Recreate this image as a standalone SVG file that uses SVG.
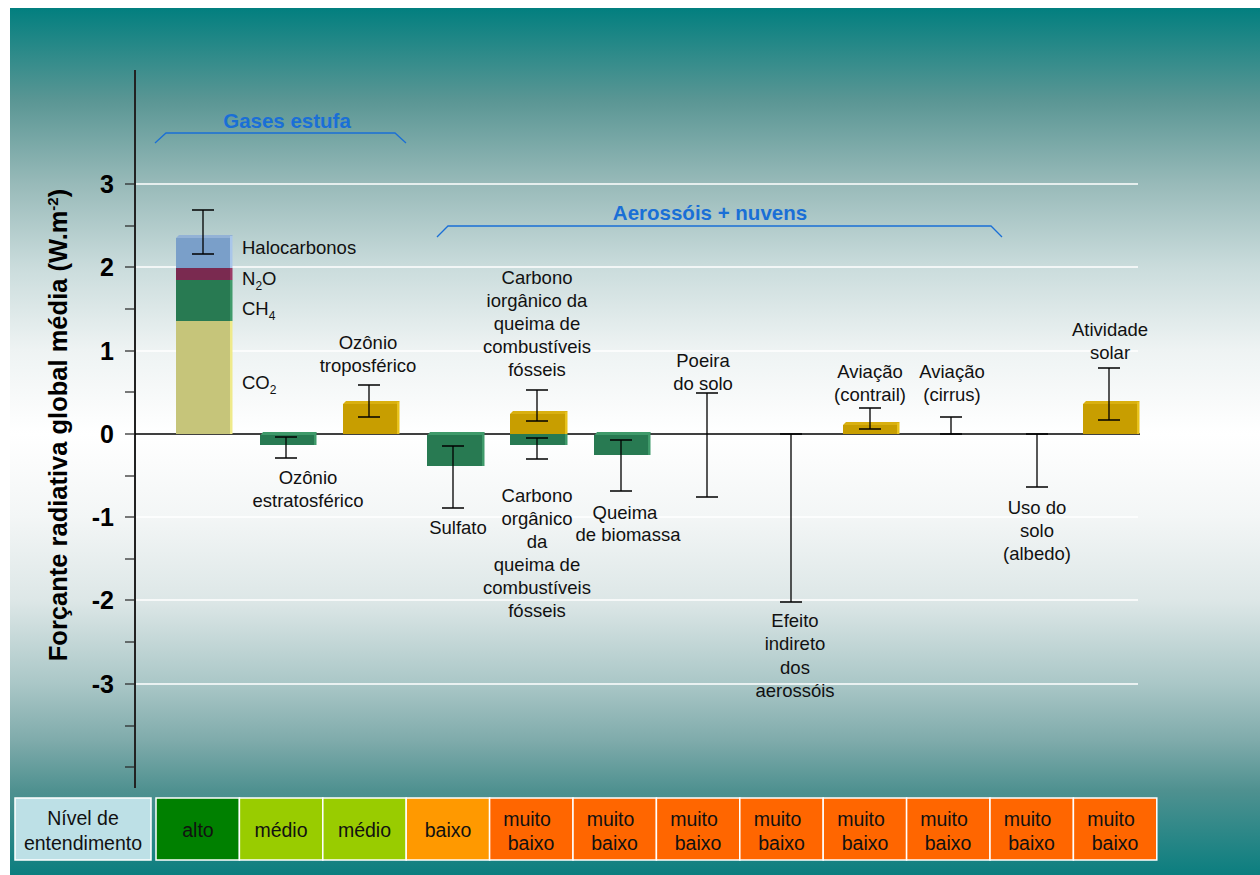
<svg xmlns="http://www.w3.org/2000/svg" width="1260" height="875" viewBox="0 0 1260 875">
<defs>
<linearGradient id="bg" gradientUnits="userSpaceOnUse" x1="0" y1="8" x2="0" y2="875">
<stop offset="0" stop-color="#027f7f"/>
<stop offset="0.106" stop-color="#5a9694"/>
<stop offset="0.203" stop-color="#98bab9"/>
<stop offset="0.299" stop-color="#cadcdc"/>
<stop offset="0.394" stop-color="#eef3f3"/>
<stop offset="0.491" stop-color="#ffffff"/>
<stop offset="0.587" stop-color="#f3f6f6"/>
<stop offset="0.683" stop-color="#dde7e7"/>
<stop offset="0.779" stop-color="#aac7c7"/>
<stop offset="0.845" stop-color="#7fabab"/>
<stop offset="0.902" stop-color="#4f9190"/>
<stop offset="1" stop-color="#0b7e7f"/>
</linearGradient>
<style>
text{font-family:"Liberation Sans",Arial,sans-serif;}
.lbl{font-size:18.5px;fill:#111;text-anchor:middle;}
.lbll{font-size:18.5px;fill:#111;}
.ax{font-size:25px;font-weight:bold;fill:#000;text-anchor:end;}
.ttl{font-size:25.5px;font-weight:bold;fill:#000;}
.grp{font-size:20.5px;font-weight:bold;fill:#1a6fd6;text-anchor:middle;}
.brk{fill:none;stroke:#1a6fd6;stroke-width:1.3;}
.grid{stroke:#ffffff;stroke-width:1.5;}
.tick{stroke:#222;stroke-width:1.2;}
.err{fill:none;stroke:#000;stroke-width:1.3;}
.gr{fill:#287a52;}
.grs{fill:#3f9a6a;}
.go{fill:#c89e00;}
.gos{fill:#e8c21c;}
.cell{stroke:#ffffff;stroke-width:1.5;}
.ct{font-size:19.5px;fill:#111;text-anchor:middle;}
</style>
</defs>
<rect x="0" y="0" width="1260" height="875" fill="#ffffff"/>
<rect x="10" y="8" width="1250" height="867" fill="url(#bg)"/>

<g id="grid">
<line class="grid" x1="136" y1="184" x2="1138" y2="184"/>
<line class="grid" x1="136" y1="267" x2="1138" y2="267"/>
<line class="grid" x1="136" y1="351" x2="1138" y2="351"/>
<line class="grid" x1="136" y1="517" x2="1138" y2="517"/>
<line class="grid" x1="136" y1="600" x2="1138" y2="600"/>
<line class="grid" x1="136" y1="684" x2="1138" y2="684"/>
</g>

<g id="axis">
<line x1="135" y1="70" x2="135" y2="788" stroke="#222" stroke-width="2"/>
<line class="tick" x1="125" y1="184" x2="135" y2="184"/>
<line class="tick" x1="125" y1="226" x2="135" y2="226"/>
<line class="tick" x1="125" y1="267" x2="135" y2="267"/>
<line class="tick" x1="125" y1="309" x2="135" y2="309"/>
<line class="tick" x1="125" y1="351" x2="135" y2="351"/>
<line class="tick" x1="125" y1="392" x2="135" y2="392"/>
<line class="tick" x1="125" y1="434" x2="135" y2="434"/>
<line class="tick" x1="125" y1="476" x2="135" y2="476"/>
<line class="tick" x1="125" y1="517" x2="135" y2="517"/>
<line class="tick" x1="125" y1="559" x2="135" y2="559"/>
<line class="tick" x1="125" y1="600" x2="135" y2="600"/>
<line class="tick" x1="125" y1="642" x2="135" y2="642"/>
<line class="tick" x1="125" y1="684" x2="135" y2="684"/>
<line class="tick" x1="125" y1="726" x2="135" y2="726"/>
<line class="tick" x1="125" y1="767" x2="135" y2="767"/>
<text class="ax" x="114" y="193">3</text>
<text class="ax" x="114" y="276">2</text>
<text class="ax" x="114" y="360">1</text>
<text class="ax" x="114" y="443">0</text>
<text class="ax" x="114" y="526">-1</text>
<text class="ax" x="114" y="609">-2</text>
<text class="ax" x="114" y="693">-3</text>
<text class="ttl" transform="translate(67,425) rotate(-90)" text-anchor="middle">Forçante radiativa global média (W.m<tspan font-size="15" dy="-9">-2</tspan><tspan dy="9">)</tspan></text>
<line x1="135" y1="434" x2="1140" y2="434" stroke="#000" stroke-width="1.3"/>
</g>

<g id="gases-estufa">
<text class="grp" x="287" y="128">Gases estufa</text>
<polyline class="brk" points="155,143 166,133 395,133 406,143"/>
</g>

<g id="aerossois-nuvens">
<text class="grp" x="710" y="220">Aerossóis + nuvens</text>
<polyline class="brk" points="437,237 448,226 991,226 1002,237"/>
</g>

<g id="co2-stack">
<polygon points="176,238 179,235 233,235 230,238" fill="#93b2d6"/>
<rect x="176" y="238" width="54" height="30" fill="#7a9fc9"/>
<rect x="230" y="236" width="2.5" height="32" fill="#a9c6ea"/>
<rect x="176" y="268" width="54" height="12" fill="#7a2a50"/>
<rect x="230" y="268" width="2.5" height="12" fill="#9a3a66"/>
<rect x="176" y="280" width="54" height="41" fill="#287a52"/>
<rect x="230" y="280" width="2.5" height="41" fill="#3f9a6a"/>
<rect x="176" y="321" width="54" height="113" fill="#c6c57a"/>
<rect x="230" y="321" width="2.5" height="113" fill="#efea8a"/>
<path class="err" d="M192,210 H214 M203,210 V254 M192,254 H214"/>
<text class="lbll" x="242" y="254">Halocarbonos</text>
<text class="lbll" x="242" y="285">N<tspan font-size="12" dy="5">2</tspan><tspan dy="-5">O</tspan></text>
<text class="lbll" x="242" y="315">CH<tspan font-size="12" dy="5">4</tspan></text>
<text class="lbll" x="242" y="389">CO<tspan font-size="12" dy="5">2</tspan></text>
</g>

<g id="ozonio-estratosferico">
<polygon points="260,436 263,432 317,432 314,436" fill="#3f9a6a"/>
<rect class="gr" x="260" y="435" width="54" height="10"/>
<rect class="grs" x="314" y="433" width="2.5" height="12"/>
<path class="err" d="M275,437 H297 M286,437 V458 M275,458 H297"/>
<text class="lbl" x="308" y="484">Ozônio</text>
<text class="lbl" x="308" y="507">estratosférico</text>
</g>

<g id="ozonio-troposferico">
<polygon points="343,404 346,401 400,401 397,404" fill="#d9b010"/>
<rect class="go" x="343" y="404" width="54" height="30"/>
<rect class="gos" x="397" y="402" width="2.5" height="32"/>
<path class="err" d="M358,385 H380 M369,385 V417 M358,417 H380"/>
<text class="lbl" x="368" y="349">Ozônio</text>
<text class="lbl" x="368" y="372">troposférico</text>
</g>

<g id="sulfato">
<polygon points="427,436 430,432 485,432 482,436" fill="#3f9a6a"/>
<rect class="gr" x="427" y="435" width="55" height="31"/>
<rect class="grs" x="482" y="433" width="2.5" height="33"/>
<path class="err" d="M442,446 H464 M453,446 V508 M442,508 H464"/>
<text class="lbl" x="458" y="534">Sulfato</text>
</g>

<g id="carbono-combustiveis">
<polygon points="510,414 513,411 568,411 565,414" fill="#d9b010"/>
<rect class="go" x="510" y="414" width="55" height="20"/>
<rect class="gos" x="565" y="412" width="2.5" height="22"/>
<rect class="gr" x="510" y="434" width="55" height="11"/>
<rect class="grs" x="565" y="434" width="2.5" height="11"/>
<path class="err" d="M526,390 H548 M537,390 V421 M526,421 H548"/>
<path class="err" d="M526,438 H548 M537,438 V459 M526,459 H548"/>
<text class="lbl" x="537" y="284">Carbono</text>
<text class="lbl" x="537" y="307">iorgânico da</text>
<text class="lbl" x="537" y="330">queima de</text>
<text class="lbl" x="537" y="353">combustíveis</text>
<text class="lbl" x="537" y="376">fósseis</text>
<text class="lbl" x="537" y="502">Carbono</text>
<text class="lbl" x="537" y="525">orgânico</text>
<text class="lbl" x="537" y="548">da</text>
<text class="lbl" x="537" y="571">queima de</text>
<text class="lbl" x="537" y="594">combustíveis</text>
<text class="lbl" x="537" y="617">fósseis</text>
</g>

<g id="queima-biomassa">
<polygon points="594,436 597,432 651,432 648,436" fill="#3f9a6a"/>
<rect class="gr" x="594" y="435" width="54" height="20"/>
<rect class="grs" x="648" y="433" width="2.5" height="22"/>
<path class="err" d="M610,440 H632 M621,440 V491 M610,491 H632"/>
<text class="lbl" x="625" y="519">Queima</text>
<text class="lbl" x="628" y="541">de biomassa</text>
</g>

<g id="poeira-solo">
<path class="err" d="M696,393 H718 M707,393 V497 M696,497 H718"/>
<text class="lbl" x="703" y="367">Poeira</text>
<text class="lbl" x="703" y="390">do solo</text>
</g>

<g id="efeito-indireto">
<path class="err" d="M780,434 H802 M791,434 V602 M780,602 H802"/>
<text class="lbl" x="795" y="627">Efeito</text>
<text class="lbl" x="795" y="650">indireto</text>
<text class="lbl" x="795" y="674">dos</text>
<text class="lbl" x="795" y="697">aerossóis</text>
</g>

<g id="aviacao-contrail">
<polygon points="843,425 846,422 900,422 897,425" fill="#d9b010"/>
<rect class="go" x="843" y="425" width="54" height="9"/>
<rect class="gos" x="897" y="423" width="2.5" height="11"/>
<path class="err" d="M859,408 H881 M870,408 V429 M859,429 H881"/>
<text class="lbl" x="870" y="378">Aviação</text>
<text class="lbl" x="870" y="401">(contrail)</text>
</g>

<g id="aviacao-cirrus">
<path class="err" d="M940,417 H962 M951,417 V434 M940,434 H962"/>
<text class="lbl" x="952" y="378">Aviação</text>
<text class="lbl" x="952" y="401">(cirrus)</text>
</g>

<g id="uso-solo">
<path class="err" d="M1026,434 H1048 M1037,434 V487 M1026,487 H1048"/>
<text class="lbl" x="1037" y="514">Uso do</text>
<text class="lbl" x="1037" y="537">solo</text>
<text class="lbl" x="1037" y="560">(albedo)</text>
</g>

<g id="atividade-solar">
<polygon points="1083,404 1086,401 1140,401 1137,404" fill="#d9b010"/>
<rect class="go" x="1083" y="404" width="54" height="30"/>
<rect class="gos" x="1137" y="402" width="2.5" height="32"/>
<path class="err" d="M1098,368 H1120 M1109,368 V420 M1098,420 H1120"/>
<text class="lbl" x="1110" y="336">Atividade</text>
<text class="lbl" x="1110" y="359">solar</text>
</g>

<g id="legend">
<rect class="cell" x="15" y="798" width="136" height="62" fill="#bde0e6"/>
<text class="ct" x="83" y="825">Nível de</text>
<text class="ct" x="83" y="850">entendimento</text>
<rect class="cell" x="156" y="798" width="83.4" height="62" fill="#008000"/>
<text class="ct" x="198" y="837">alto</text>
<rect class="cell" x="239.4" y="798" width="83.4" height="62" fill="#99cc00"/>
<text class="ct" x="281" y="837">médio</text>
<rect class="cell" x="322.8" y="798" width="83.4" height="62" fill="#99cc00"/>
<text class="ct" x="364.5" y="837">médio</text>
<rect class="cell" x="406.2" y="798" width="83.4" height="62" fill="#ff9900"/>
<text class="ct" x="448" y="837">baixo</text>
<rect class="cell" x="489.6" y="798" width="83.4" height="62" fill="#ff6600"/>
<text class="ct" x="527" y="826">muito</text><text class="ct" x="531" y="850">baixo</text>
<rect class="cell" x="573" y="798" width="83.4" height="62" fill="#ff6600"/>
<text class="ct" x="610.5" y="826">muito</text><text class="ct" x="614.5" y="850">baixo</text>
<rect class="cell" x="656.4" y="798" width="83.4" height="62" fill="#ff6600"/>
<text class="ct" x="694" y="826">muito</text><text class="ct" x="698" y="850">baixo</text>
<rect class="cell" x="739.8" y="798" width="83.4" height="62" fill="#ff6600"/>
<text class="ct" x="777.5" y="826">muito</text><text class="ct" x="781.5" y="850">baixo</text>
<rect class="cell" x="823.2" y="798" width="83.4" height="62" fill="#ff6600"/>
<text class="ct" x="861" y="826">muito</text><text class="ct" x="865" y="850">baixo</text>
<rect class="cell" x="906.6" y="798" width="83.4" height="62" fill="#ff6600"/>
<text class="ct" x="944" y="826">muito</text><text class="ct" x="948" y="850">baixo</text>
<rect class="cell" x="990" y="798" width="83.4" height="62" fill="#ff6600"/>
<text class="ct" x="1027.5" y="826">muito</text><text class="ct" x="1031.5" y="850">baixo</text>
<rect class="cell" x="1073.4" y="798" width="83.4" height="62" fill="#ff6600"/>
<text class="ct" x="1111" y="826">muito</text><text class="ct" x="1115" y="850">baixo</text>
</g>
</svg>
